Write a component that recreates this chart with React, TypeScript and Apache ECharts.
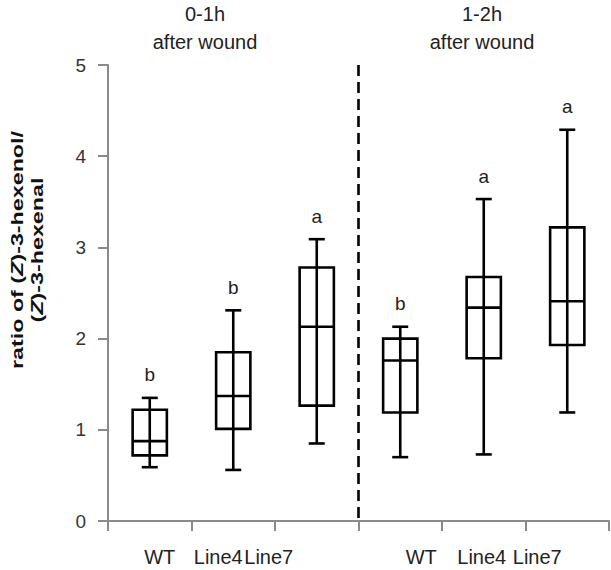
import React, { useEffect, useRef } from "react";
import * as echarts from "echarts";

const categories = ["WT", "Line4", "Line7", "WT", "Line4", "Line7"];
const lowWhisker = [0.59, 0.56, 0.85, 0.7, 0.73, 1.19];
const q1 = [0.72, 1.01, 1.265, 1.19, 1.785, 1.93];
const median = [0.876, 1.37, 2.13, 1.76, 2.34, 2.41];
const q3 = [1.22, 1.85, 2.78, 2.0, 2.675, 3.22];
const highWhisker = [1.35, 2.31, 3.09, 2.13, 3.53, 4.29];
const letters = ["b", "b", "a", "b", "a", "a"];
const groupTitles = ["0-1h\nafter wound", "1-2h\nafter wound"];
const yMin = 0;
const yMax = 5;
const yInterval = 1;

// horizontal shift of each category label (style only)
const labelShift = [10, -15, -48, 21, -2, -30];

const FONT = "'Liberation Sans', Arial, sans-serif";
const AXIS_GRAY = "#8a8a8a";

export default function App() {
  const ref = useRef<HTMLDivElement>(null);
  useEffect(() => {
    if (!ref.current) return;
    const chart = echarts.init(ref.current, undefined, { renderer: "svg" });

    const rich: Record<string, any> = {};
    labelShift.forEach((s, i) => {
      rich["c" + i] = {
        fontSize: 20,
        fontFamily: FONT,
        color: "#222",
        padding: s >= 0 ? [0, 0, 0, 2 * s] : [0, -2 * s, 0, 0],
      };
    });

    const boxData = categories.map((_, i) => [
      i,
      lowWhisker[i],
      q1[i],
      median[i],
      q3[i],
      highWhisker[i],
    ]);

    const titleStyle = {
      align: "center",
      verticalAlign: "top",
      fontSize: 20,
      lineHeight: 28,
      fontFamily: FONT,
      fill: "#222",
    };

    const option: any = {
      animation: false,
      backgroundColor: "#fff",
      grid: { left: 108, right: 2, top: 65, bottom: 49 },
      xAxis: {
        type: "category",
        data: categories,
        boundaryGap: true,
        axisLine: { show: true, lineStyle: { color: AXIS_GRAY, width: 2 } },
        axisTick: { show: true, length: 10, lineStyle: { color: AXIS_GRAY, width: 2 } },
        axisLabel: {
          interval: 0,
          margin: 26,
          formatter: (v: string, i: number) => `{c${i}|${v}}`,
          rich,
        },
        splitLine: { show: false },
      },
      yAxis: {
        type: "value",
        min: yMin,
        max: yMax,
        interval: yInterval,
        axisLine: { show: true, lineStyle: { color: AXIS_GRAY, width: 2 } },
        axisTick: { show: true, length: 10, lineStyle: { color: AXIS_GRAY, width: 2 } },
        axisLabel: { fontSize: 19, fontFamily: FONT, color: "#333", margin: 22 },
        splitLine: { show: false },
      },
      graphic: [
        {
          type: "text",
          x: 205,
          y: 0,
          style: { ...titleStyle, text: groupTitles[0] },
        },
        {
          type: "text",
          x: 482,
          y: 0,
          style: { ...titleStyle, text: groupTitles[1] },
        },
        {
          type: "text",
          x: 27,
          y: 250,
          rotation: Math.PI / 2,
          scaleX: 1.37,
          scaleY: 1,
          style: {
            text: "ratio of ({i|Z})-3-hexenol/\n({i|Z})-3-hexenal",
            align: "center",
            verticalAlign: "middle",
            fontSize: 17,
            fontWeight: "bold",
            lineHeight: 20,
            fontFamily: FONT,
            fill: "#111",
            rich: {
              i: {
                fontSize: 17,
                fontWeight: "bold",
                fontStyle: "italic",
                fontFamily: FONT,
                fill: "#111",
                lineHeight: 20,
              },
            },
          },
        },
      ],
      series: [
        {
          type: "custom",
          clip: false,
          data: boxData,
          encode: { x: 0, y: [1, 2, 3, 4, 5] },
          renderItem: (params: any, api: any) => {
            const idx = api.value(0);
            const lo = api.coord([idx, api.value(1)]);
            const p1 = api.coord([idx, api.value(2)]);
            const md = api.coord([idx, api.value(3)]);
            const p3 = api.coord([idx, api.value(4)]);
            const hi = api.coord([idx, api.value(5)]);
            const band = api.size([1, 0])[0];
            const bw = band * 0.41;
            const cap = 16;
            const cx = lo[0];
            const st = { stroke: "#000", lineWidth: 2.6, fill: null };
            return {
              type: "group",
              children: [
                {
                  type: "rect",
                  shape: { x: cx - bw / 2, y: p3[1], width: bw, height: p1[1] - p3[1] },
                  style: { stroke: "#000", lineWidth: 2.6, fill: "#fff" },
                },
                { type: "line", shape: { x1: cx, y1: hi[1], x2: cx, y2: lo[1] }, style: st },
                { type: "line", shape: { x1: cx - bw / 2, y1: md[1], x2: cx + bw / 2, y2: md[1] }, style: st },
                { type: "line", shape: { x1: cx - cap / 2, y1: hi[1], x2: cx + cap / 2, y2: hi[1] }, style: st },
                { type: "line", shape: { x1: cx - cap / 2, y1: lo[1], x2: cx + cap / 2, y2: lo[1] }, style: st },
                {
                  type: "text",
                  x: cx,
                  y: hi[1] - 23,
                  style: {
                    text: letters[params.dataIndex],
                    align: "center",
                    verticalAlign: "middle",
                    fontSize: 19,
                    fontFamily: FONT,
                    fill: "#222",
                  },
                },
              ],
            };
          },
        },
        {
          type: "custom",
          clip: false,
          data: [[2, yMax]],
          encode: { x: 0, y: 1 },
          renderItem: (params: any, api: any) => {
            const a = api.coord([2, yMin]);
            const b = api.coord([3, yMin]);
            const t = api.coord([2, yMax]);
            const xm = (a[0] + b[0]) / 2;
            return {
              type: "line",
              shape: { x1: xm, y1: t[1], x2: xm, y2: a[1] },
              style: { stroke: "#000", lineWidth: 2.6, lineDash: [11, 6] },
            };
          },
        },
      ],
    };
    chart.setOption(option);
    return () => chart.dispose();
  }, []);
  return (
    <div
      ref={ref}
      style={{ position: "fixed", left: 0, top: 0, width: 611, height: 570 }}
    />
  );
}
